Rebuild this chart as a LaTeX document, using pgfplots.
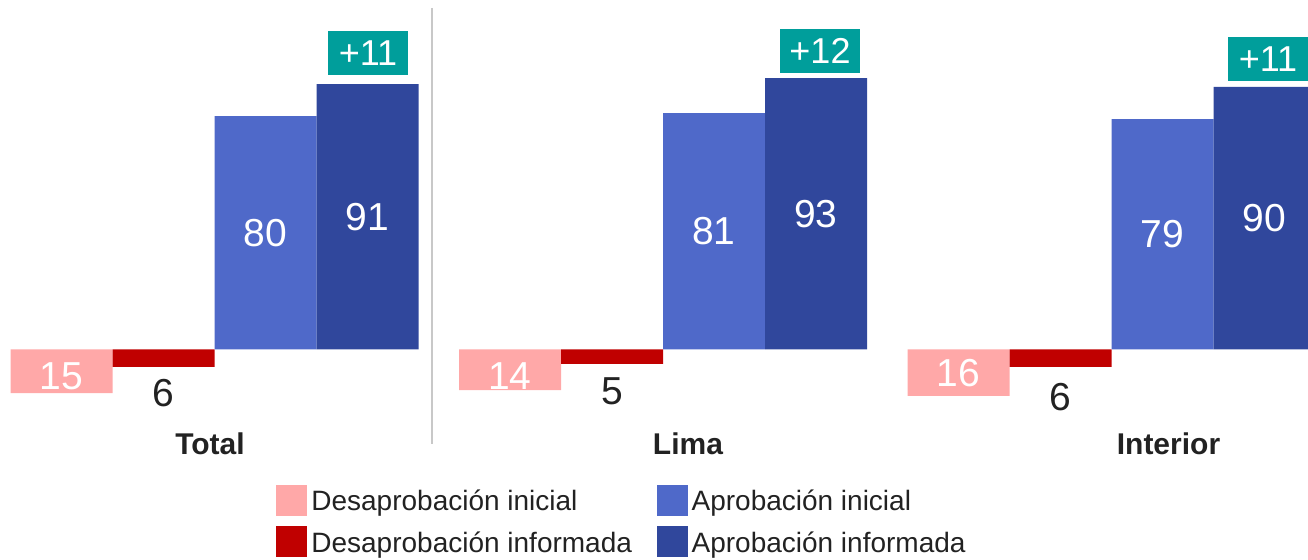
\documentclass[border=0pt]{standalone}
\usepackage{fontspec}
\setmainfont{Liberation Sans}
\usepackage{pgfplots}
\pgfplotsset{compat=1.18}
\definecolor{pinkc}{HTML}{FFA8A8}
\definecolor{redc}{HTML}{C00000}
\definecolor{bluec}{HTML}{4F69C9}
\definecolor{navyc}{HTML}{30479C}
\definecolor{tealc}{HTML}{009E9B}
\definecolor{sepc}{HTML}{C8C8C8}
\definecolor{txtc}{HTML}{222222}
\begin{document}
\begin{tikzpicture}
\begin{axis}[
  width=654pt, height=280pt, scale only axis,
  xmin=0, xmax=1308, ymin=-72.28, ymax=119.83,
  hide axis, clip=true,
  legend columns=2, transpose legend, legend cell align=left,
  legend image code/.code={\fill[#1] (0pt,-7.1pt) rectangle (15.5pt,8.4pt);},
  legend style={at={(rel axis cs:0.211,0.135)}, anchor=north west, draw=none, fill=none,
    inner sep=0pt, font=\fontsize{14}{17}\selectfont, text=txtc,
    row sep=4.5pt,
    /tikz/every even column/.append style={column sep=10.3pt}},
]
\coordinate (BL) at (rel axis cs:0,0);
\coordinate (TR) at (rel axis cs:1,1);
% bars
\addplot[ybar, bar width=102, bar shift=0pt, fill=pinkc, draw=none]
  coordinates {(61.5,-15) (510,-14) (958.5,-16)};
\addlegendentry{Desaprobación inicial}
\addplot[ybar, bar width=102, bar shift=0pt, fill=redc, draw=none]
  coordinates {(163.5,-6) (612,-5) (1060.5,-6)};
\addlegendentry{Desaprobación informada}
\addplot[ybar, bar width=102, bar shift=0pt, fill=bluec, draw=none]
  coordinates {(265.5,80) (714,81) (1162.5,79)};
\addlegendentry{Aprobación inicial}
\addplot[ybar, bar width=102, bar shift=0pt, fill=navyc, draw=none]
  coordinates {(367.5,91) (816,93) (1264.5,90)};
\addlegendentry{Aprobación informada}
% separator
\addplot[forget plot, sepc, line width=1pt] coordinates {(432,117.1) (432,-32.5)};
% labels inside pink bars
\addplot[forget plot, draw=none, mark=none, nodes near coords, point meta=explicit symbolic,
  every node near coord/.append style={anchor=center, text=white, font=\fontsize{19.5}{20}\selectfont}]
  table[meta=l] {
x y l
61.5 -9.4 15
510 -9.1 14
958.5 -8.2 16
};
% labels below red bars
\addplot[forget plot, draw=none, mark=none, nodes near coords, point meta=explicit symbolic,
  every node near coord/.append style={anchor=center, text=txtc, font=\fontsize{19.5}{20}\selectfont}]
  table[meta=l] {
x y l
163.5 -15.0 6
612 -14.4 5
1060.5 -16.3 6
};
% labels inside blue bars
\addplot[forget plot, draw=none, mark=none, nodes near coords, point meta=explicit symbolic,
  every node near coord/.append style={anchor=center, text=white, font=\fontsize{19.5}{20}\selectfont}]
  table[meta=l] {
x y l
265.5 40 80
714 40.5 81
1162.5 39.5 79
367.5 45.5 91
816 46.5 93
1264.5 45 90
};
% difference boxes
\addplot[forget plot, draw=none, mark=none, nodes near coords, point meta=explicit symbolic,
  every node near coord/.append style={anchor=center, text=white, fill=tealc, inner sep=0pt,
    minimum width=40pt, minimum height=21.85pt, font=\fontsize{18}{19}\selectfont}]
  table[meta=l] {
x y l
368 101.7 +11
820 102.4 +12
1268 99.6 +11
};
% group labels
\addplot[forget plot, draw=none, mark=none, nodes near coords, point meta=explicit symbolic,
  every node near coord/.append style={anchor=center, text=txtc, font=\fontsize{15}{17}\bfseries}]
  table[meta=l] {
x y l
210 -32.3 Total
688 -32.3 Lima
1168.5 -32.3 Interior
};
\end{axis}
\pgfresetboundingbox
\path (BL) rectangle (TR);
\end{tikzpicture}
\end{document}
